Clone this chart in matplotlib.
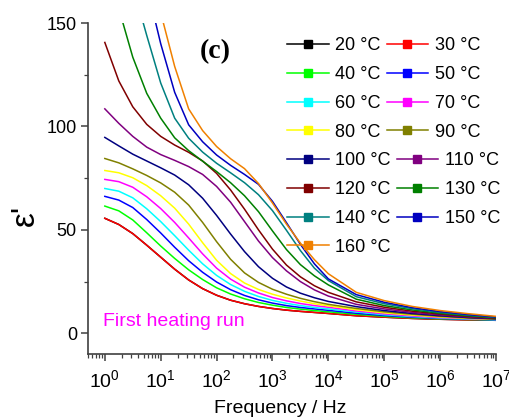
import numpy as np
import matplotlib
matplotlib.use("Agg")
import matplotlib.pyplot as plt
from matplotlib.lines import Line2D

plt.rcParams['font.family'] = ['Liberation Sans', 'DejaVu Sans']
plt.rcParams['mathtext.default'] = 'regular'

# log10(frequency / Hz) grid at which values were read
log_freq = [0, 0.25, 0.5, 0.75, 1.0, 1.25, 1.5, 1.75, 2.0, 2.25, 2.5, 2.75,
            3.0, 3.25, 3.5, 3.75, 4.0, 4.5, 5.0, 5.5, 6.0, 6.5, 7.0]
nan = np.nan

temps = [20, 30, 40, 50, 60, 70, 80, 90, 100, 110, 120, 130, 140, 150, 160]
colors = ['#000000', '#FF0000', '#00FF00', '#0000FF', '#00FFFF', '#FF00FF',
          '#FFFF00', '#808000', '#000080', '#800080', '#800000', '#008000',
          '#008080', '#0000C0', '#F08000']

eps_20 = [55.6, 52.6, 48.2, 42.6, 36.8, 31.0, 25.8, 21.6, 18.4, 16.0, 14.3, 13.0, 12.0, 11.2, 10.6, 10.1, 9.6, 8.5, 7.8, 7.2, 6.8, 6.5, 6.3]
eps_30 = [55.6, 52.6, 48.2, 42.6, 36.8, 31.0, 25.8, 21.6, 18.4, 16.0, 14.3, 13.0, 12.0, 11.2, 10.6, 10.1, 9.6, 8.5, 7.8, 7.2, 6.8, 6.5, 6.3]
eps_40 = [61.5, 59.2, 54.8, 48.6, 42.2, 36.2, 30.7, 26.0, 22.0, 19.0, 16.7, 14.9, 13.6, 12.5, 11.7, 11.0, 10.4, 9.2, 8.2, 7.5, 7.0, 6.7, 6.4]
eps_50 = [66.2, 64.4, 60.8, 55.0, 48.5, 41.6, 35.1, 29.5, 24.8, 21.1, 18.3, 16.2, 14.6, 13.4, 12.5, 11.8, 11.1, 9.7, 8.6, 7.8, 7.2, 6.8, 6.5]
eps_60 = [70.0, 68.7, 65.5, 60.2, 54.0, 47.2, 40.2, 33.6, 28.0, 23.6, 20.3, 17.8, 15.9, 14.5, 13.4, 12.5, 11.8, 10.3, 9.0, 8.1, 7.4, 6.9, 6.6]
eps_70 = [74.4, 73.3, 70.6, 66.0, 60.3, 53.6, 46.1, 38.4, 31.5, 26.2, 22.3, 19.5, 17.3, 15.7, 14.4, 13.4, 12.6, 10.8, 9.4, 8.4, 7.6, 7.1, 6.7]
eps_80 = [78.7, 77.6, 75.2, 71.4, 66.5, 60.5, 52.8, 43.8, 35.3, 28.9, 24.3, 21.2, 18.9, 17.1, 15.6, 14.3, 13.3, 11.4, 9.9, 8.8, 7.9, 7.2, 6.8]
eps_90 = [84.5, 82.4, 79.5, 76.3, 72.7, 68.2, 62.0, 53.6, 44.3, 35.8, 29.2, 24.6, 21.3, 18.9, 16.9, 15.3, 14.0, 12.0, 10.4, 9.2, 8.2, 7.4, 6.9]
eps_100 = [94.7, 90.6, 86.6, 83.3, 80.0, 76.5, 71.8, 65.3, 57.0, 48.0, 39.5, 32.2, 26.6, 22.4, 19.4, 17.2, 15.4, 12.9, 11.0, 9.6, 8.5, 7.6, 7.0]
eps_110 = [108.5, 101.5, 95.2, 90.0, 86.4, 83.6, 80.6, 76.8, 71.0, 63.4, 54.0, 44.6, 36.6, 30.2, 25.0, 21.0, 18.0, 14.0, 11.8, 10.1, 8.9, 7.9, 7.2]
eps_120 = [140.6, 122.0, 109.5, 101.0, 95.2, 91.0, 87.5, 83.3, 77.3, 69.3, 60.0, 50.0, 40.7, 33.0, 27.3, 23.0, 19.8, 15.2, 12.6, 10.7, 9.3, 8.2, 7.3]
eps_130 = [nan, 157.0, 133.5, 116.0, 104.0, 94.5, 88.3, 83.2, 78.2, 72.8, 66.5, 58.8, 49.5, 40.5, 33.2, 27.8, 23.4, 16.5, 13.4, 11.3, 9.7, 8.5, 7.5]
eps_140 = [nan, nan, 168.0, 144.0, 121.0, 104.0, 94.3, 87.6, 82.2, 77.6, 72.8, 67.0, 59.3, 49.8, 40.0, 31.5, 25.5, 17.7, 14.3, 11.9, 10.1, 8.8, 7.7]
eps_150 = [nan, nan, nan, 168.0, 140.0, 116.5, 100.8, 92.6, 86.2, 81.2, 76.8, 72.0, 63.8, 53.5, 43.0, 33.6, 26.3, 18.7, 15.0, 12.4, 10.5, 9.1, 7.9]
eps_160 = [nan, nan, nan, nan, 155.0, 129.0, 108.5, 98.0, 90.3, 84.4, 79.6, 72.4, 63.0, 52.8, 43.6, 35.6, 28.8, 19.8, 15.8, 13.0, 11.0, 9.5, 8.2]

series = [eps_20, eps_30, eps_40, eps_50, eps_60, eps_70, eps_80, eps_90,
          eps_100, eps_110, eps_120, eps_130, eps_140, eps_150, eps_160]

W, H = 510, 418
fig = plt.figure(figsize=(W / 100, H / 100), dpi=100)
ax = fig.add_axes([88 / W, 1 - 354 / H, (496 - 88) / W, (354 - 23) / H])

freq = 10 ** np.array(log_freq)
handles = []
for t, c, s in zip(temps, colors, series):
    ax.plot(freq, s, color=c, lw=1.1, solid_joinstyle='round')
    handles.append(Line2D([], [], color=c, lw=1.1, marker='s', markersize=5.5,
                          markeredgecolor=c, markerfacecolor=c,
                          label=f'{t} °C'))

ax.set_xscale('log')
ax.set_xlim(0.5, 1e7)
ax.set_ylim(-10, 150)
ax.set_xticks([10 ** k for k in range(8)])
ax.xaxis.set_minor_locator(matplotlib.ticker.LogLocator(base=10, subs=np.arange(2, 10), numticks=20))
ax.xaxis.set_minor_formatter(matplotlib.ticker.NullFormatter())
ax.set_yticks([0, 50, 100, 150])
ax.set_yticks([25, 75, 125], minor=True)

for sp in ['top', 'right']:
    ax.spines[sp].set_visible(False)
for sp in ['left', 'bottom']:
    ax.spines[sp].set_color('#404040')
    ax.spines[sp].set_linewidth(1.2)

ax.tick_params(which='major', direction='out', length=5, width=1.1, color='#404040',
               labelsize=13, pad=3)
ax.tick_params(which='minor', direction='out', length=3, width=0.9, color='#404040')
ax.tick_params(axis='x', which='major', pad=6, labelsize=14)

ax.set_xlabel('Frequency / Hz', fontsize=14)
ax.xaxis.set_label_coords((280 - 88) / (496 - 88), -0.14)
ax.set_ylabel("ε'", fontsize=24)
ax.yaxis.set_label_coords(-0.115, 0.42)

fig.text(215 / W, 1 - 52 / H, '(c)', fontsize=20, fontweight='bold',
         family='Liberation Serif', ha='center', va='center')
fig.text(103 / W, 1 - 321 / H, 'First heating run', color='#FF00FF', fontsize=14,
         ha='left', va='center')

order1 = [0, 2, 4, 6, 1, 3, 5, 7]
order2 = [8, 10, 12, 14, 9, 11, 13]
common = dict(ncol=2, frameon=False, fontsize=13, handlelength=2.3,
              handletextpad=0.35, columnspacing=0.35, labelspacing=0.66,
              borderpad=0, borderaxespad=0, loc='upper left')
leg1 = ax.legend(handles=[handles[i] for i in order1],
                 bbox_to_anchor=(287 / W, 1 - 37 / H), bbox_transform=fig.transFigure,
                 **common)
ax.add_artist(leg1)
leg2 = ax.legend(handles=[handles[i] for i in order2],
                 bbox_to_anchor=(287 / W, 1 - 152 / H), bbox_transform=fig.transFigure,
                 **common)

fig.savefig('out.png', dpi=100)
